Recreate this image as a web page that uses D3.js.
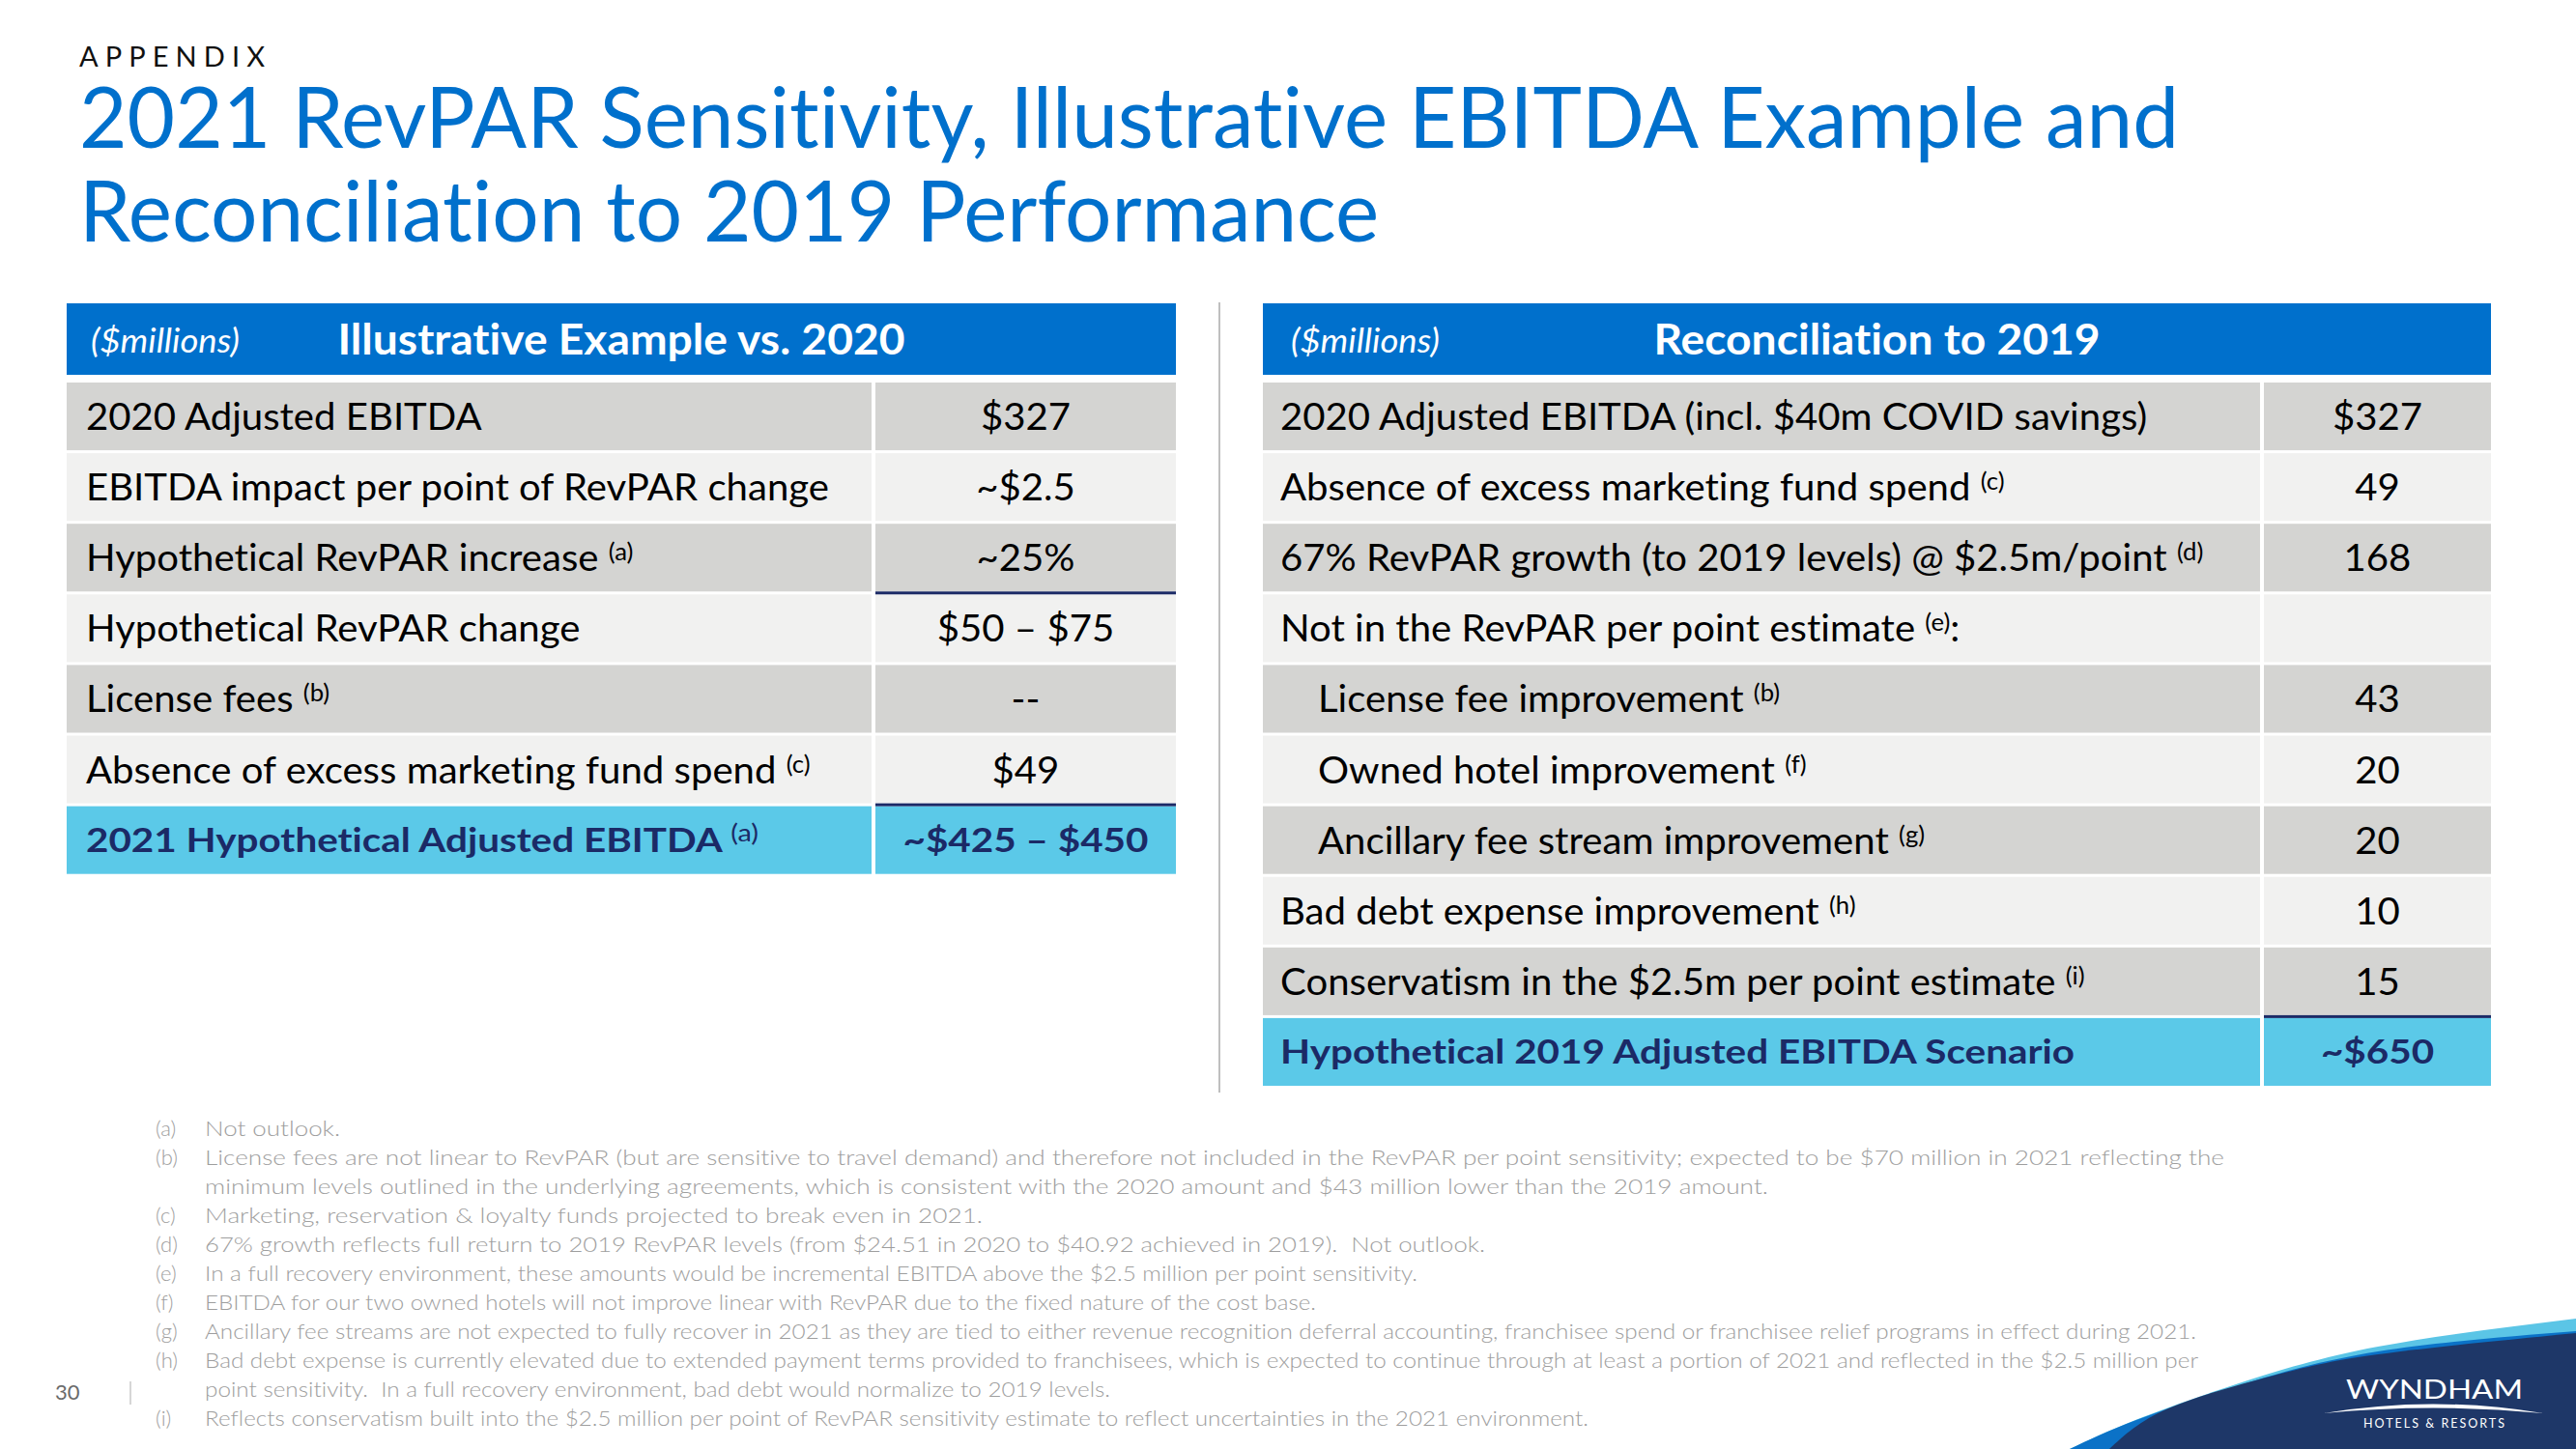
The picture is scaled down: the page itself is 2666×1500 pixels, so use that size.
<!DOCTYPE html>
<html><head><meta charset="utf-8">
<script src="https://cdn.jsdelivr.net/npm/d3@7"></script>
<style>html,body{margin:0;padding:0;background:#fff;} svg{display:block;} text{white-space:pre;font-variant-ligatures:none;font-feature-settings:"liga" 0,"clig" 0;}</style>
</head><body>
<svg id="c" width="2666" height="1500"></svg>
<script>
// ---------------- DATA ----------------
const sectionLabel = "APPENDIX";
const titleLines = ["2021 RevPAR Sensitivity, Illustrative EBITDA Example and", "Reconciliation to 2019 Performance"];
const unitLabel = "($millions)";

const leftTitle = "Illustrative Example vs. 2020";
const leftLabels = ["2020 Adjusted EBITDA", "EBITDA impact per point of RevPAR change", "Hypothetical RevPAR increase",
  "Hypothetical RevPAR change", "License fees", "Absence of excess marketing fund spend", "2021 Hypothetical Adjusted EBITDA"];
const leftValues = ["$327", "~$2.5", "~25%", "$50 \u2013 $75", "--", "$49", "~$425 \u2013 $450"];
const leftSups = ["", "", "(a)", "", "(b)", "(c)", "(a)"];
const leftRulesAbove = [3, 6];

const rightTitle = "Reconciliation to 2019";
const rightLabels = ["2020 Adjusted EBITDA (incl. $40m COVID savings)", "Absence of excess marketing fund spend",
  "67% RevPAR growth (to 2019 levels) @ $2.5m/point", "Not in the RevPAR per point estimate",
  "License fee improvement", "Owned hotel improvement", "Ancillary fee stream improvement",
  "Bad debt expense improvement", "Conservatism in the $2.5m per point estimate", "Hypothetical 2019 Adjusted EBITDA Scenario"];
const rightValues = ["$327", "49", "168", "", "43", "20", "20", "10", "15", "~$650"];
const rightSups = ["", "(c)", "(d)", "(e)", "(b)", "(f)", "(g)", "(h)", "(i)", ""];
const rightSuffix = ["", "", "", ":", "", "", "", "", "", ""];
const rightIndent = [0, 0, 0, 0, 1, 1, 1, 0, 0, 0];
const rightRulesAbove = [9];

const footKeys = ["(a)", "(b)", "", "(c)", "(d)", "(e)", "(f)", "(g)", "(h)", "", "(i)"];
const footTexts = [
  "Not outlook.",
  "License fees are not linear to RevPAR (but are sensitive to travel demand) and therefore not included in the RevPAR per point sensitivity; expected to be $70 million in 2021 reflecting the",
  "minimum levels outlined in the underlying agreements, which is consistent with the 2020 amount and $43 million lower than the 2019 amount.",
  "Marketing, reservation & loyalty funds projected to break even in 2021.",
  "67% growth reflects full return to 2019 RevPAR levels (from $24.51 in 2020 to $40.92 achieved in 2019).  Not outlook.",
  "In a full recovery environment, these amounts would be incremental EBITDA above the $2.5 million per point sensitivity.",
  "EBITDA for our two owned hotels will not improve linear with RevPAR due to the fixed nature of the cost base.",
  "Ancillary fee streams are not expected to fully recover in 2021 as they are tied to either revenue recognition deferral accounting, franchisee spend or franchisee relief programs in effect during 2021.",
  "Bad debt expense is currently elevated due to extended payment terms provided to franchisees, which is expected to continue through at least a portion of 2021 and reflected in the $2.5 million per",
  "point sensitivity.  In a full recovery environment, bad debt would normalize to 2019 levels.",
  "Reflects conservatism built into the $2.5 million per point of RevPAR sensitivity estimate to reflect uncertainties in the 2021 environment."
];
const pageNumber = "30";
const logoName = "WYNDHAM";
const logoSub = "HOTELS & RESORTS";

// ---------------- STYLE / LAYOUT ----------------
const FONT = "Lato, 'Open Sans', sans-serif";
const BLUE = "#0070CC", NAVY = "#1B2A66", DARK = "#D4D4D2", LIGHT = "#F1F1F0", TOTAL = "#5BC9E8";
// right-hand ends (px) of each footnote line as measured on the reference
const footEnds = [352, 2302, 1830, 1017, 1537, 1467, 1362, 2273, 2275, 1149, 1644];

const svg = d3.select("#c");
svg.append("rect").attr("width", 2666).attr("height", 1500).attr("fill", "#fff");

function measure(str, size, weight, style) {
  const t = svg.append("text").attr("font-family", FONT).attr("font-size", size)
    .attr("font-weight", weight || 400).attr("font-style", style || "normal").text(str);
  const w = t.node().getComputedTextLength(); t.remove(); return w;
}
function squeeze(sel, f) {
  sel.each(function () {
    const w = this.getComputedTextLength();
    d3.select(this).attr("textLength", w * f).attr("lengthAdjust", "spacingAndGlyphs");
  });
}

const titleF = 2173 / measure(titleLines[0], 87, 400);
const rowF = 769 / measure(leftLabels[1], 39, 400);
const boldF = 822 / measure(rightLabels[9], 35, 700);
const headF = 587 / measure(leftTitle, 43, 700);
const milF = 154 / measure(unitLabel, 34, 400, "italic");

// ---------------- HEADER TEXT ----------------
svg.append("text").attr("x", 82).attr("y", 69).attr("font-family", FONT).attr("font-size", 29)
  .attr("fill", "#111").attr("textLength", 192).attr("lengthAdjust", "spacing").text(sectionLabel);
const tl = svg.selectAll("text.title").data(titleLines).join("text").attr("class", "title")
  .attr("x", 82).attr("y", (d, i) => 153 + i * 97).attr("font-family", FONT).attr("font-size", 87)
  .attr("fill", BLUE).text(d => d);
squeeze(tl, titleF);

// ---------------- TABLES ----------------
const STEP = 73.1, GAP = 3, TOP = 396;
function drawTable(cfg) {
  const n = cfg.labels.length;
  const y = d3.scaleBand().domain(d3.range(n)).range([TOP, TOP + n * STEP - GAP]).paddingInner(GAP / STEP).paddingOuter(0);
  const g = svg.append("g");
  g.append("rect").attr("x", cfg.x0).attr("y", 314).attr("width", cfg.x1 - cfg.x0).attr("height", 74).attr("fill", BLUE);
  const mil = g.append("text").attr("x", cfg.milX).attr("y", 365).attr("font-family", FONT).attr("font-size", 34)
    .attr("font-style", "italic").attr("fill", "#fff").text(unitLabel);
  squeeze(mil, milF);
  const ht = g.append("text").attr("x", (cfg.x0 + cfg.x1) / 2).attr("y", 367).attr("text-anchor", "middle")
    .attr("font-family", FONT).attr("font-size", 43).attr("font-weight", 700).attr("fill", "#fff").text(cfg.title);
  squeeze(ht, headF);
  const rows = d3.range(n);
  const fill = i => i === n - 1 ? TOTAL : (i % 2 === 0 ? DARK : LIGHT);
  g.selectAll("rect.lc").data(rows).join("rect").attr("x", cfg.x0).attr("y", i => y(i))
    .attr("width", cfg.split - cfg.x0).attr("height", y.bandwidth()).attr("fill", fill);
  g.selectAll("rect.vc").data(rows).join("rect").attr("x", cfg.split + 4).attr("y", i => y(i))
    .attr("width", cfg.x1 - cfg.split - 4).attr("height", y.bandwidth()).attr("fill", fill);
  g.selectAll("rect.rule").data(cfg.rules).join("rect").attr("x", cfg.split + 4).attr("y", i => y(i) - GAP)
    .attr("width", cfg.x1 - cfg.split - 4).attr("height", GAP).attr("fill", NAVY);
  rows.forEach(i => {
    const total = i === n - 1;
    const size = total ? 35 : 39;
    const cy = y(i) + y.bandwidth() / 2;
    const base = cy + (total ? 12.5 : 14);
    const t = g.append("text").attr("x", cfg.textX + (cfg.indent ? cfg.indent[i] * 39 : 0)).attr("y", base)
      .attr("font-family", FONT).attr("font-size", size).attr("font-weight", total ? 700 : 400)
      .attr("fill", total ? NAVY : "#000");
    t.append("tspan").text(cfg.labels[i]);
    if (cfg.sups[i]) {
      t.append("tspan").text(" ");
      t.append("tspan").attr("font-size", 25).attr("font-weight", 400).attr("dy", -11).text(cfg.sups[i]);
      if (cfg.suffix && cfg.suffix[i]) t.append("tspan").attr("dy", 11).text(cfg.suffix[i]);
    }
    squeeze(t, total ? boldF : rowF);
    if (cfg.values[i]) {
      const v = g.append("text").attr("x", (cfg.split + 4 + cfg.x1) / 2).attr("y", base).attr("text-anchor", "middle")
        .attr("font-family", FONT).attr("font-size", size).attr("font-weight", total ? 700 : 400)
        .attr("fill", total ? NAVY : "#000").text(cfg.values[i]);
      squeeze(v, total ? boldF : rowF);
    }
  });
}
drawTable({ labels: leftLabels, values: leftValues, sups: leftSups, rules: leftRulesAbove, title: leftTitle,
  x0: 69, x1: 1217, split: 902, textX: 89, milX: 94 });
drawTable({ labels: rightLabels, values: rightValues, sups: rightSups, suffix: rightSuffix, indent: rightIndent,
  rules: rightRulesAbove, title: rightTitle, x0: 1307, x1: 2578, split: 2339, textX: 1325, milX: 1336 });

svg.append("line").attr("x1", 1262).attr("x2", 1262).attr("y1", 313).attr("y2", 1131)
  .attr("stroke", "#BFBFBF").attr("stroke-width", 2);

// ---------------- FOOTNOTES ----------------
const fy = d3.scaleLinear().domain([0, 1]).range([1176, 1206]);
svg.selectAll("text.fk").data(footKeys).join("text").attr("class", "fk")
  .attr("x", 161).attr("y", (d, i) => fy(i)).attr("font-family", FONT).attr("font-size", 22).attr("font-weight", 300)
  .attr("fill", "#9E9E9E").text(d => d);
svg.selectAll("text.ft").data(footTexts).join("text").attr("class", "ft")
  .attr("x", 212).attr("y", (d, i) => fy(i)).attr("font-family", FONT).attr("font-size", 22).attr("font-weight", 300)
  .attr("fill", "#9E9E9E").attr("textLength", (d, i) => footEnds[i] - 212).attr("lengthAdjust", "spacingAndGlyphs")
  .text(d => d);

svg.append("text").attr("x", 57).attr("y", 1449).attr("font-family", FONT).attr("font-size", 22)
  .attr("fill", "#6B6B6B").text(pageNumber);
svg.append("line").attr("x1", 135).attr("x2", 135).attr("y1", 1430).attr("y2", 1454)
  .attr("stroke", "#C8C8C8").attr("stroke-width", 1.5);

// ---------------- LOGO SWOOSH ----------------
const curve = d3.line().curve(d3.curveNatural);
function band(pts, color) {
  svg.append("path").attr("d", curve(pts) + "L2666,1500Z").attr("fill", color);
}
band([[2142, 1500], [2210, 1470], [2317, 1432], [2461, 1394], [2666, 1365]], "#5BC5E6");
band([[2142, 1500], [2211, 1470], [2318, 1434], [2461, 1399], [2666, 1378]], "#0B72C7");
band([[2183, 1500], [2244, 1458], [2353, 1424], [2461, 1402], [2666, 1380]], "#1E3768");

svg.append("text").attr("x", 2428).attr("y", 1448).attr("font-family", FONT).attr("font-size", 27)
  .attr("fill", "#fff").attr("textLength", 183).attr("lengthAdjust", "spacingAndGlyphs").text(logoName);
svg.append("path").attr("d", "M2405,1463 Q2518,1444 2632,1463 Q2518,1452 2405,1463Z").attr("fill", "#fff");
svg.append("text").attr("x", 2446).attr("y", 1478).attr("font-family", FONT).attr("font-size", 12.5)
  .attr("fill", "#fff").attr("textLength", 146).attr("lengthAdjust", "spacing").text(logoSub);
</script>
</body></html>
